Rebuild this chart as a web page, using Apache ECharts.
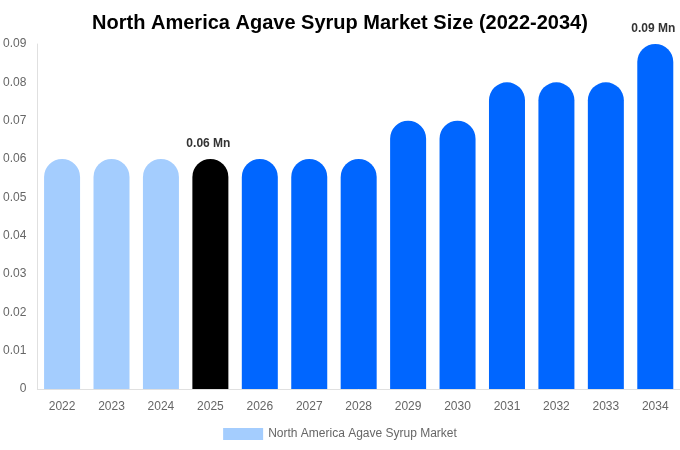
<!DOCTYPE html>
<html>
<head>
<meta charset="utf-8">
<script src="https://cdn.jsdelivr.net/npm/echarts@6/dist/echarts.min.js"></script>
<style>
  html, body { margin: 0; padding: 0; background: #fff; }
  #chart { width: 680px; height: 450px; }
</style>
</head>
<body>
<div id="chart"></div>
<script>
const years = ['2022', '2023', '2024', '2025', '2026', '2027', '2028', '2029', '2030', '2031', '2032', '2033', '2034']
const values = [0.06, 0.06, 0.06, 0.06, 0.06, 0.06, 0.06, 0.07, 0.07, 0.08, 0.08, 0.08, 0.09]
const barColors = ['#a4cdfe', '#a4cdfe', '#a4cdfe', '#000000', '#0066ff', '#0066ff', '#0066ff',
  '#0066ff', '#0066ff', '#0066ff', '#0066ff', '#0066ff', '#0066ff']
const labelled = ['2025', '2034']

const chart = echarts.init(document.getElementById('chart'))

const data = values.map((v, i) => ({
  value: v,
  itemStyle: { color: barColors[i] },
  label: {
    show: labelled.indexOf(years[i]) !== -1,
    position: 'top',
    distance: 9,
    offset: [-2, 0],
    formatter: '{c} Mn',
    fontWeight: 'bold',
    fontSize: 12,
    color: '#333'
  }
}))

chart.setOption({
  textStyle: { fontFamily: 'Liberation Sans, Arial, sans-serif' },
  title: {
    text: 'North America Agave Syrup Market Size (2022-2034)',
    left: 'center',
    top: 8,
    textStyle: { fontSize: 20, fontWeight: 'bold', color: '#000' }
  },
  legend: {
    bottom: 5,
    left: 'center',
    itemWidth: 40,
    itemHeight: 12,
    icon: 'rect',
    textStyle: { color: '#666', fontSize: 12 },
    data: [{ name: 'North America Agave Syrup Market', itemStyle: { color: '#a4cdfe' } }]
  },
  grid: { left: 37, right: 0, top: 44, bottom: 61, containLabel: false },
  xAxis: {
    type: 'category',
    data: years,
    axisLine: { lineStyle: { color: '#e0e0e0' } },
    axisTick: { show: false },
    axisLabel: { color: '#666', fontSize: 12, margin: 12 }
  },
  yAxis: {
    type: 'value',
    min: 0,
    max: 0.09,
    interval: 0.01,
    axisLine: { show: true, lineStyle: { color: '#e0e0e0' } },
    splitLine: { show: false },
    axisLabel: { color: '#666', fontSize: 12, margin: 11 }
  },
  series: [{
    name: 'North America Agave Syrup Market',
    type: 'bar',
    barWidth: 36,
    itemStyle: { borderRadius: [18, 18, 0, 0] },
    data: data
  }]
})
</script>
</body>
</html>
